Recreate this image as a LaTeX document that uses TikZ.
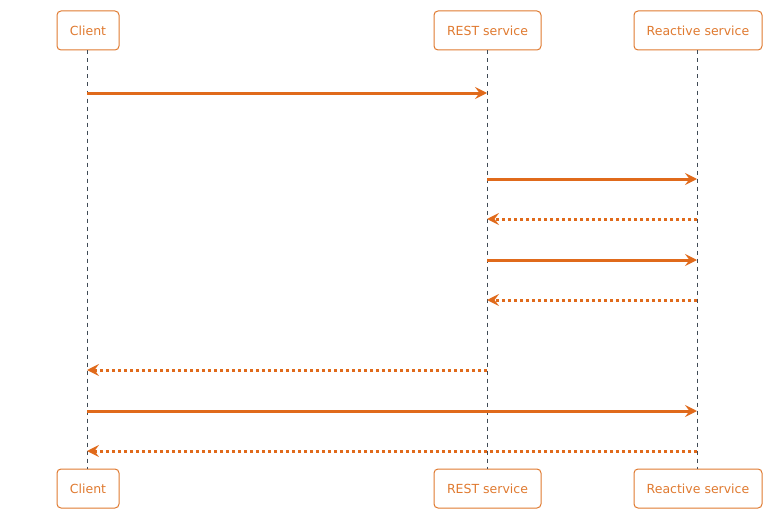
\documentclass[tikz,border=0pt]{standalone}
\usepackage{fontspec}
\setmainfont{DejaVu Sans}
\usetikzlibrary{arrows.meta}
\definecolor{orng}{HTML}{E06A1B}
\definecolor{txto}{HTML}{E07A30}
\definecolor{lifeg}{HTML}{3F4A55}
\begin{document}
\begin{tikzpicture}[x=1pt,y=-1pt,
  actor/.style={draw=txto,line width=1pt,rounded corners=4pt,fill=white,text=txto,
    font=\fontsize{12.5}{14}\selectfont,minimum height=39pt,inner xsep=10pt,anchor=center},
  lifeline/.style={draw=lifeg,line width=0.8pt,dash pattern=on 4pt off 4pt},
  msg/.style={draw=orng,line width=3pt,-{Stealth[length=12pt,width=12pt,inset=4.5pt]}},
  ret/.style={msg,dash pattern=on 3pt off 3pt},
]
\useasboundingbox (0,0) rectangle (771,519);
\node[actor,minimum width=62pt] (c1) at (88,30.5) {\raisebox{-1pt}{Client}};
\node[actor,minimum width=107pt] (r1) at (487.5,30.5) {\raisebox{-1pt}{REST service}};
\node[actor,minimum width=128pt] (a1) at (698,30.5) {\raisebox{-1pt}{Reactive service}};
\node[actor,minimum width=62pt] (c2) at (88,488.5) {\raisebox{-1pt}{Client}};
\node[actor,minimum width=107pt] (r2) at (487.5,488.5) {\raisebox{-1pt}{REST service}};
\node[actor,minimum width=128pt] (a2) at (698,488.5) {\raisebox{-1pt}{Reactive service}};
\draw[lifeline] (c1.south -| 87,0) -- (c2.north -| 87,0);
\draw[lifeline] (r1.south -| 487,0) -- (r2.north -| 487,0);
\draw[lifeline] (a1.south -| 697,0) -- (a2.north -| 697,0);
\coordinate (cA) at (87,93);  \coordinate (rA) at (487,93);
\coordinate (rB) at (487,179); \coordinate (aB) at (697,179);
\coordinate (rC) at (487,219); \coordinate (aC) at (697,219);
\coordinate (rD) at (487,260); \coordinate (aD) at (697,260);
\coordinate (rE) at (487,300); \coordinate (aE) at (697,300);
\coordinate (cF) at (87,370); \coordinate (rF) at (487,370);
\coordinate (cG) at (87,411); \coordinate (aG) at (697,411);
\coordinate (cH) at (87,451); \coordinate (aH) at (697,451);
\draw[msg] (cA) -- (rA);
\draw[msg] (rB) -- (aB);
\draw[ret] (aC) -- (rC);
\draw[msg] (rD) -- (aD);
\draw[ret] (aE) -- (rE);
\draw[ret] (rF) -- (cF);
\draw[msg] (cG) -- (aG);
\draw[ret] (aH) -- (cH);
\end{tikzpicture}
\end{document}
